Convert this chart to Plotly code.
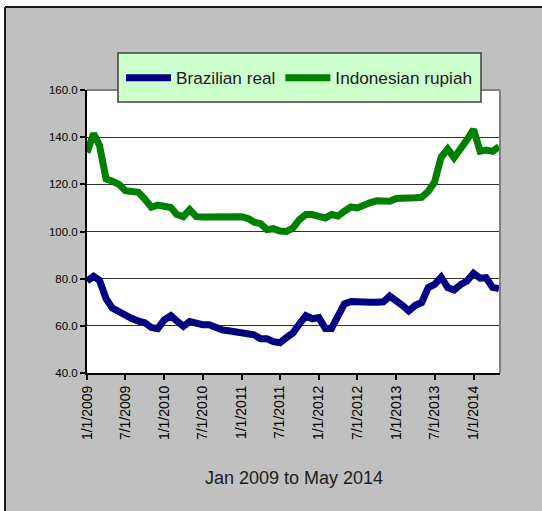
import pandas as pd
import plotly.graph_objects as go

# Monthly index values, Jan 2009 .. May 2014
months = pd.date_range("2009-01-01", "2014-05-01", freq="MS")

brazilian_real = [
    79.0, 81.0, 79.3, 71.5, 67.5, 66.0, 63.8, 63.1, 62.0, 61.3, 59.3, 58.8,
    62.5, 64.3, 62.1, 59.8, 61.8, 61.1, 60.5, 60.5, 59.0, 58.3, 57.9, 57.5,
    57.0, 56.6, 56.2, 54.5, 54.5, 53.3, 52.8, 55.0, 57.0, 60.7, 64.3, 63.0,
    63.5, 58.9, 58.9, 64.2, 69.3, 70.3, 70.0, 70.0, 70.0, 70.0, 70.2, 72.6,
    70.8, 68.5, 66.3, 68.7, 69.9, 76.2, 77.6, 80.6, 76.2, 75.2, 77.5, 79.0,
    82.3, 80.2, 80.4, 76.3, 75.8,
]

indonesian_rupiah = [
    133.5, 141.5, 136.5, 122.3, 121.3, 120.0, 117.3, 117.3, 116.6, 113.8, 110.3, 111.2,
    110.6, 110.2, 107.2, 106.3, 109.3, 106.3, 106.2, 106.2, 106.0, 105.6, 105.6, 106.3,
    106.3, 105.5, 104.0, 103.3, 100.8, 101.2, 100.2, 100.0, 101.5, 105.0, 107.2, 107.2,
    106.5, 105.7, 107.2, 106.6, 108.6, 110.4, 110.0, 111.4, 112.3, 113.0, 113.2, 112.8,
    114.0, 113.8, 114.2, 114.3, 114.5, 117.0, 121.0, 131.5, 135.0, 131.3, 134.6, 138.9,
    143.3, 134.0, 134.5, 134.0, 136.0,
]

tick_dates = pd.date_range("2009-01-01", "2014-01-01", freq="6MS")
tick_labels = [f"{d.month}/{d.day}/{d.year}" for d in tick_dates]

FONT = "Arial, Liberation Sans, sans-serif"
W, H = 542, 511
L, R, T, B = 87, 500, 90, 373  # plot area in pixels


def px_x(p):
    return (p - L) / (R - L)


def px_y(p):
    return (B - p) / (B - T)


fig = go.Figure()
fig.add_trace(go.Scatter(
    x=months, y=brazilian_real, mode="lines", name="Brazilian real",
    line=dict(color="#000080", width=7),
))
fig.add_trace(go.Scatter(
    x=months, y=indonesian_rupiah, mode="lines", name="Indonesian rupiah",
    line=dict(color="#008000", width=7),
))

shapes = [
    # white margin outside the frame (top and left)
    dict(type="rect", xref="paper", yref="paper", x0=-2, x1=3,
         y0=px_y(7), y1=3, fillcolor="white", line=dict(width=0), layer="below"),
    dict(type="rect", xref="paper", yref="paper", x0=-2, x1=px_x(5),
         y0=-3, y1=3, fillcolor="white", line=dict(width=0), layer="below"),
    # chart frame
    dict(type="line", xref="paper", yref="paper", x0=px_x(5), x1=3,
         y0=px_y(7), y1=px_y(7), line=dict(color="#1a1a1a", width=2)),
    dict(type="line", xref="paper", yref="paper", x0=px_x(5), x1=px_x(5),
         y0=px_y(7), y1=-3, line=dict(color="#1a1a1a", width=2)),
    # grey top/right border of the plot area
    dict(type="line", xref="paper", yref="paper", x0=0, x1=1, y0=1, y1=1,
         line=dict(color="#808080", width=2)),
    dict(type="line", xref="paper", yref="paper", x0=1, x1=1, y0=0, y1=1,
         line=dict(color="#808080", width=2)),
    # legend box
    dict(type="rect", xref="paper", yref="paper",
         x0=px_x(118), x1=px_x(481), y0=px_y(102), y1=px_y(53),
         fillcolor="#CCFFCC", line=dict(color="#404040", width=1.5)),
]

fig.update_layout(
    width=W, height=H,
    margin=dict(l=L, r=W - R, t=T, b=H - B, autoexpand=False),
    paper_bgcolor="#C0C0C0",
    plot_bgcolor="white",
    font=dict(family=FONT, color="#000000"),
    shapes=shapes,
    showlegend=True,
    legend=dict(
        orientation="h", x=px_x(121), xanchor="left",
        y=px_y(78), yanchor="middle",
        bgcolor="rgba(0,0,0,0)", borderwidth=0,
        font=dict(family=FONT, size=17.2, color="#202020"),
        itemwidth=45, tracegroupgap=0,
    ),
    annotations=[dict(
        text="Jan 2009 to May 2014", xref="paper", yref="paper",
        x=0.5, y=px_y(478), xanchor="center", yanchor="middle",
        showarrow=False, font=dict(family=FONT, size=18, color="#202020"),
    )],
)

fig.update_xaxes(
    type="date",
    range=["2009-01-01", "2014-05-06"],
    tickvals=list(tick_dates), ticktext=tick_labels,
    tickangle=-90, tickfont=dict(family=FONT, size=14, color="#000000"),
    ticks="outside", ticklen=5, tickcolor="#000000", tickwidth=1.5,
    showline=True, linecolor="#000000", linewidth=2,
    showgrid=False, zeroline=False,
)
fig.update_yaxes(
    range=[40, 160], dtick=20, tick0=40, tickformat=".1f",
    tickfont=dict(family=FONT, size=11.5, color="#000000"),
    ticks="outside", ticklen=5, tickcolor="#000000", tickwidth=1.5,
    showline=True, linecolor="#000000", linewidth=2,
    showgrid=True, gridcolor="#303030", gridwidth=1.2, zeroline=False,
)

fig.write_html("out.html")
